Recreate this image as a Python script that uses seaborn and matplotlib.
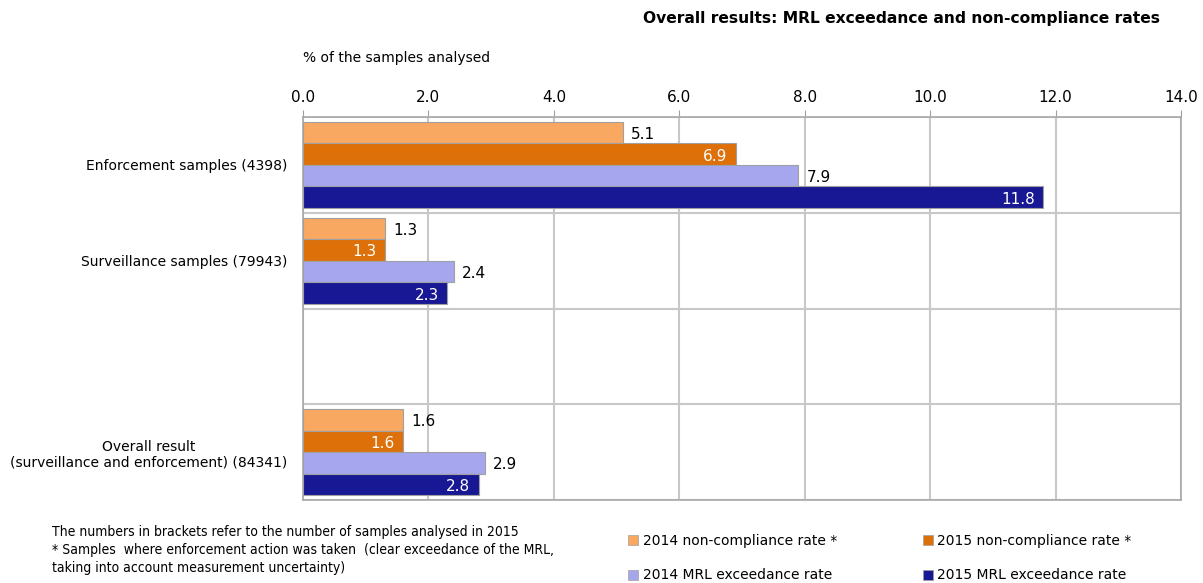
import numpy as np
import pandas as pd
import matplotlib
matplotlib.use("Agg")
import matplotlib.pyplot as plt
from matplotlib.lines import Line2D
import seaborn as sns

categories = ["Enforcement samples (4398)",
              "Surveillance samples (79943)",
              " ",
              "Overall result\n(surveillance and enforcement) (84341)"]
series = ["2014 non-compliance rate *", "2015 non-compliance rate *",
          "2014 MRL exceedance rate", "2015 MRL exceedance rate"]
nc_2014 = [5.1, 1.3, np.nan, 1.6]
nc_2015 = [6.9, 1.3, np.nan, 1.6]
mrl_2014 = [7.9, 2.4, np.nan, 2.9]
mrl_2015 = [11.8, 2.3, np.nan, 2.8]
xticks = [0, 2, 4, 6, 8, 10, 12, 14]

colors = ["#F8A860", "#DD7009", "#A6A6EE", "#181894"]
label_inside = [False, True, False, True]

rows = []
for s, vals in zip(series, [nc_2014, nc_2015, mrl_2014, mrl_2015]):
    for c, v in zip(categories, vals):
        rows.append({"category": c, "series": s, "value": v})
df = pd.DataFrame(rows)

sns.set_style("white")
plt.rcParams["font.family"] = ["DejaVu Sans"]
plt.rcParams["text.color"] = "black"
plt.rcParams["xtick.labelcolor"] = "black"
plt.rcParams["ytick.labelcolor"] = "black"

fig = plt.figure(figsize=(12.03, 5.83), dpi=100)
ax = fig.add_axes([303/1203, 1-500/583, (1181-303)/1203, (500-117)/583])

sns.barplot(data=df, y="category", x="value", hue="series", order=categories,
            hue_order=series, palette=colors, saturation=1, orient="h", width=0.9, gap=0,
            edgecolor="#a0a0a0", linewidth=0.8, legend=False, ax=ax, zorder=3)

for cont, inside in zip(ax.containers, label_inside):
    for rect in cont:
        w = rect.get_width()
        if not np.isfinite(w) or w == 0:
            continue
        yc = rect.get_y() + rect.get_height() / 2
        if inside:
            ax.annotate(f"{w:.1f}", (w, yc), xytext=(-6, -1.5), textcoords="offset points",
                        ha="right", va="center", color="white", fontsize=11, zorder=5)
        else:
            ax.annotate(f"{w:.1f}", (w, yc), xytext=(6, -1.5), textcoords="offset points",
                        ha="left", va="center", color="black", fontsize=11, zorder=5)

ax.set_xlim(0, 14)
ax.set_xticks(xticks)
ax.set_xticklabels([f"{t:.1f}" for t in xticks], fontsize=11, color="black")
ax.xaxis.tick_top()
ax.tick_params(axis="x", which="major", direction="out", length=5, color="#a0a0a0", pad=4)
ax.set_ylim(3.5, -0.5)
ax.set_yticks(range(len(categories)))
ax.set_yticklabels(categories, fontsize=10, ha="right", multialignment="center", color="black")
ax.tick_params(axis="y", which="major", length=0, pad=11.5)
ax.set_yticks([-0.5, 0.5, 1.5, 2.5, 3.5], minor=True)
ax.tick_params(axis="y", which="minor", direction="out", length=7, color="#a0a0a0")
ax.set_xlabel("")
ax.set_ylabel("")
ax.grid(axis="x", which="major", color="#c8c8c8", linewidth=1.5, zorder=0)
ax.grid(axis="y", which="minor", color="#c8c8c8", linewidth=1.5, zorder=0)
ax.set_axisbelow(True)
for sp in ax.spines.values():
    sp.set_color("#a8a8a8")
    sp.set_linewidth(1.2)

fig.text(1160/1203, 1-18/583, "Overall results: MRL exceedance and non-compliance rates",
         ha="right", va="center", fontsize=11.2, fontweight="bold", color="black")
fig.text(303/1203, 1-58/583, "% of the samples analysed", ha="left", va="center",
         fontsize=10, color="black")

fig.text(52/1203, 1-550/583,
         "The numbers in brackets refer to the number of samples analysed in 2015\n"
         "* Samples  where enforcement action was taken  (clear exceedance of the MRL,\n"
         "taking into account measurement uncertainty)",
         ha="left", va="center", fontsize=10, fontstretch="condensed", linespacing=1.4,
         color="black")

handles = [Line2D([0], [0], marker="s", linestyle="none", markersize=7,
                  markerfacecolor=c, markeredgecolor="#a0a0a0", markeredgewidth=0.5)
           for c in colors]
order = [0, 2, 1, 3]
leg = fig.legend([handles[i] for i in order], [series[i] for i in order], ncol=2,
                 loc="center left", bbox_to_anchor=(614/1203, 1-558/583), frameon=False,
                 fontsize=10, handletextpad=0.2, columnspacing=6.0, labelspacing=1.5,
                 handlelength=1.0)
for t in leg.get_texts():
    t.set_color("black")

fig.savefig("out.png", dpi=100)
